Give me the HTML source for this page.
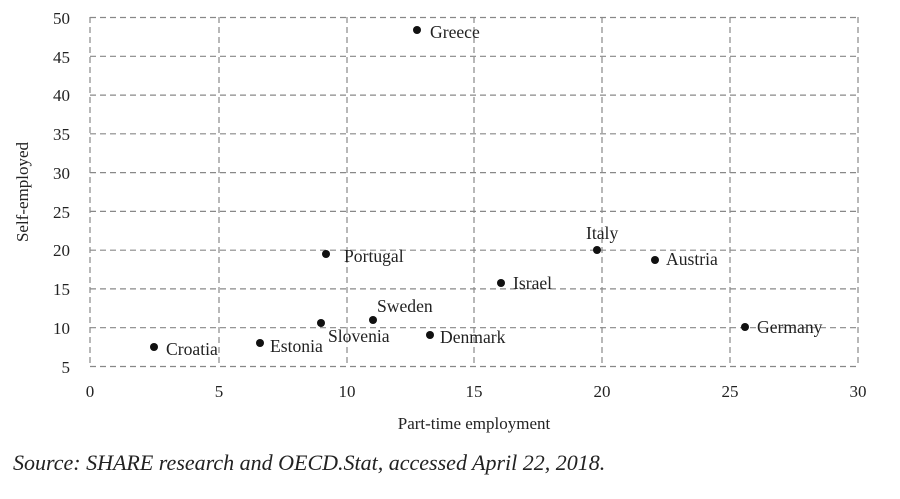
<!DOCTYPE html>
<html><head><style>body{margin:0;background:#fff}svg{display:block}</style></head><body>
<svg width="900" height="499" xmlns="http://www.w3.org/2000/svg" font-family="Liberation Serif, serif" font-size="16" fill="#222">
<g stroke="#888" stroke-width="1.2" stroke-dasharray="6,4" fill="none">
<line x1="90" y1="17.5" x2="858" y2="17.5"/><line x1="90" y1="56.3" x2="858" y2="56.3"/><line x1="90" y1="95.1" x2="858" y2="95.1"/><line x1="90" y1="133.8" x2="858" y2="133.8"/><line x1="90" y1="172.6" x2="858" y2="172.6"/><line x1="90" y1="211.4" x2="858" y2="211.4"/><line x1="90" y1="250.2" x2="858" y2="250.2"/><line x1="90" y1="288.9" x2="858" y2="288.9"/><line x1="90" y1="327.7" x2="858" y2="327.7"/><line x1="90" y1="366.5" x2="858" y2="366.5"/>
<line x1="90" y1="17" x2="90" y2="367"/><line x1="219" y1="17" x2="219" y2="367"/><line x1="347" y1="17" x2="347" y2="367"/><line x1="474" y1="17" x2="474" y2="367"/><line x1="602" y1="17" x2="602" y2="367"/><line x1="730" y1="17" x2="730" y2="367"/><line x1="858" y1="17" x2="858" y2="367"/>
</g>
<g text-anchor="end" font-size="17">
<text x="70" y="24">50</text><text x="70" y="63">45</text><text x="70" y="101">40</text><text x="70" y="140">35</text><text x="70" y="179">30</text><text x="70" y="218">25</text><text x="70" y="256">20</text><text x="70" y="295">15</text><text x="70" y="334">10</text><text x="70" y="373">5</text>
</g>
<g text-anchor="middle" font-size="17">
<text x="90" y="397">0</text><text x="219" y="397">5</text><text x="347" y="397">10</text><text x="474" y="397">15</text><text x="602" y="397">20</text><text x="730" y="397">25</text><text x="858" y="397">30</text>
<text x="474" y="429">Part-time employment</text>
<text transform="translate(28,192) rotate(-90)">Self-employed</text>
</g>
<g fill="#111">
<circle cx="417" cy="30" r="4"/><circle cx="597" cy="250" r="4"/><circle cx="655" cy="260" r="4"/><circle cx="326" cy="254" r="4"/><circle cx="501" cy="283" r="4"/><circle cx="373" cy="320" r="4"/><circle cx="321" cy="323" r="4"/><circle cx="745" cy="327" r="4"/><circle cx="430" cy="335" r="4"/><circle cx="260" cy="343" r="4"/><circle cx="154" cy="347" r="4"/>
</g>
<g font-size="17.6">
<text x="430" y="38">Greece</text><text x="586" y="239">Italy</text><text x="666" y="265">Austria</text><text x="344" y="262">Portugal</text><text x="513" y="289">Israel</text><text x="377" y="312">Sweden</text><text x="328" y="342">Slovenia</text><text x="757" y="333">Germany</text><text x="440" y="343">Denmark</text><text x="270" y="352">Estonia</text><text x="166" y="355">Croatia</text>
</g>
<text x="13" y="470" font-size="22" font-style="italic">Source: SHARE research and OECD.Stat, accessed April 22, 2018.</text>
</svg>
</body></html>
